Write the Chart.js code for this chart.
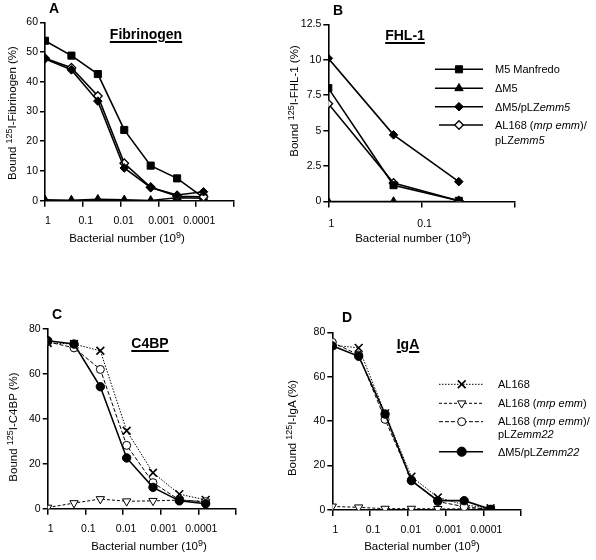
<!DOCTYPE html>
<html><head><meta charset="utf-8">
<script src="https://cdn.jsdelivr.net/npm/chart.js@4.4.1/dist/chart.umd.min.js"></script>
<style>
html,body{margin:0;padding:0;background:#fff;}
#wrap{position:relative;width:596px;height:560px;overflow:hidden;font-family:"Liberation Sans",Arial,sans-serif;color:#000;background:#fff;}
canvas{position:absolute;}
.t{position:absolute;white-space:nowrap;line-height:1;}
.c{transform:translate(-50%,-50%);}
.letter{font-weight:bold;font-size:14px;}
.ptitle{font-weight:bold;font-size:14px;text-decoration:underline;text-decoration-thickness:1.5px;text-underline-offset:2px;}
.xt{font-size:11.5px;}
.yt{font-size:11.5px;transform:translate(-50%,-50%) rotate(-90deg);}
sup{font-size:78%;vertical-align:0.42em;line-height:0;}
.lg{font-size:11px;transform:translate(0,-50%);}
</style>
</head><body>
<div id="wrap">
<canvas id="cA" width="290" height="280" style="left:0;top:0"></canvas>
<canvas id="cB" width="306" height="280" style="left:290px;top:0"></canvas>
<canvas id="cC" width="290" height="280" style="left:0;top:280px"></canvas>
<canvas id="cD" width="306" height="280" style="left:290px;top:280px"></canvas>

<div class="t c letter" style="left:54px;top:8px">A</div>
<div class="t c letter" style="left:338px;top:10px">B</div>
<div class="t c letter" style="left:57px;top:314px">C</div>
<div class="t c letter" style="left:347px;top:317px">D</div>

<div class="t c ptitle" style="left:146px;top:34px">Fibrinogen</div>
<div class="t c ptitle" style="left:405px;top:35px">FHL-1</div>
<div class="t c ptitle" style="left:150px;top:343px">C4BP</div>
<div class="t c ptitle" style="left:408px;top:344px">IgA</div>

<div class="t yt" style="left:13px;top:113px">Bound <sup>125</sup>I-Fibrinogen (%)</div>
<div class="t yt" style="left:295px;top:101px">Bound <sup>125</sup>I-FHL-1 (%)</div>
<div class="t yt" style="left:14px;top:427px">Bound <sup>125</sup>I-C4BP (%)</div>
<div class="t yt" style="left:293px;top:428px">Bound <sup>125</sup>I-IgA (%)</div>

<div class="t c xt" style="left:127px;top:239px">Bacterial number (10<sup>9</sup>)</div>
<div class="t c xt" style="left:413px;top:239px">Bacterial number (10<sup>9</sup>)</div>
<div class="t c xt" style="left:149px;top:547px">Bacterial number (10<sup>9</sup>)</div>
<div class="t c xt" style="left:422px;top:547px">Bacterial number (10<sup>9</sup>)</div>

<div class="t lg" style="left:495px;top:69px">M5 Manfredo</div>
<div class="t lg" style="left:495px;top:88px">ΔM5</div>
<div class="t lg" style="left:495px;top:107px">ΔM5/pLZ<i>emm5</i></div>
<div class="t lg" style="left:495px;top:125px">AL168 (<i>mrp emm</i>)/</div>
<div class="t lg" style="left:495px;top:140px">pLZ<i>emm5</i></div>

<div class="t lg" style="left:498px;top:384px">AL168</div>
<div class="t lg" style="left:498px;top:403px">AL168 (<i>mrp emm</i>)</div>
<div class="t lg" style="left:498px;top:421px">AL168 (<i>mrp emm</i>)/</div>
<div class="t lg" style="left:498px;top:434px">pLZ<i>emm22</i></div>
<div class="t lg" style="left:498px;top:452px">ΔM5/pLZ<i>emm22</i></div>
</div>
<script>
// ---- data ----
const bacteria = [1, 0.2, 0.04, 0.008, 0.0016, 0.00032, 0.000064];
const bacteriaFHL = [1, 0.2, 0.04];
const xTicksLong = [1, 0.1, 0.01, 0.001, 0.0001, 0.00001];
const xLabelsLong = ['1', '0.1', '0.01', '0.001', '0.0001', ''];
const xTicksShort = [1, 0.1, 0.01];
const xLabelsShort = ['1', '0.1', ''];

const fibM5 = [53.8, 48.8, 42.6, 23.8, 11.8, 7.5, 1.0];
const fibDM5 = [0.3, 0.2, 0.5, 0.3, 0.1, 1.0, 0.8];
const fibDM5emm5 = [47.7, 44.0, 33.5, 11.0, 4.4, 1.9, 3.0];
const fibAL168emm5 = [47.9, 44.7, 35.2, 12.6, 4.5, 1.5, 1.3];

const fhlM5 = [8.0, 1.15, 0.05];
const fhlDM5 = [0, 0, 0];
const fhlDM5emm5 = [10.1, 4.7, 1.4];
const fhlAL168emm5 = [6.9, 1.3, 0.05];

const c4AL168 = [73.8, 73.3, 70.3, 34.7, 16.0, 6.5, 3.9];
const c4AL168mrp = [0.5, 2.5, 4.3, 3.3, 3.5, 3.8, 3.1];
const c4AL168emm22 = [74.3, 71.6, 62.0, 28.2, 11.6, 3.9, 3.1];
const c4DM5emm22 = [74.8, 73.3, 54.3, 22.6, 9.5, 3.5, 2.2];

const igaAL168 = [74.2, 73.0, 43.5, 15.0, 5.7, 2.3, 0.8];
const igaAL168mrp = [1.6, 1.2, 0.6, 0.6, 0.5, 0.5, 0.5];
const igaAL168emm22 = [75.5, 69.8, 40.8, 13.5, 3.8, 1.5, 0.2];
const igaDM5emm22 = [73.9, 69.2, 43.2, 13.2, 4.2, 4.2, 0.3];

// ---- styles ----
const FONT = '"Liberation Sans", Arial, sans-serif';
const BLK = '#000';
const S = {
  m5: {pointStyle:'rect', pointRadius:5, backgroundColor:BLK, borderColor:BLK, borderWidth:1.6, pointBorderWidth:1},
  dm5: {pointStyle:'triangle', pointRadius:4.8, backgroundColor:BLK, borderColor:BLK, borderWidth:1.4, pointBorderWidth:1},
  dm5emm5: {pointStyle:'rectRot', pointRadius:4.3, backgroundColor:BLK, borderColor:BLK, borderWidth:1.6, pointBorderWidth:1},
  al5: {pointStyle:'rectRot', pointRadius:4.3, backgroundColor:'#fff', borderColor:BLK, borderWidth:1.6, pointBorderWidth:1.3},
  al168: {pointStyle:'crossRot', pointRadius:5.5, backgroundColor:BLK, borderColor:BLK, borderWidth:1, pointBorderWidth:1.6, borderDash:[1.5,1.5]},
  almrp: {pointStyle:'triangle', rotation:180, pointRotation:180, pointRadius:4.8, backgroundColor:'#fff', borderColor:BLK, borderWidth:1, pointBorderWidth:1, borderDash:[3,2]},
  al22: {pointStyle:'circle', pointRadius:4, backgroundColor:'#fff', borderColor:BLK, borderWidth:1, pointBorderWidth:1, borderDash:[4,2]},
  dm22: {pointStyle:'circle', pointRadius:4.2, backgroundColor:BLK, borderColor:BLK, borderWidth:1.6, pointBorderWidth:1}
};

function ds(xs, ys, st, order) {
  return Object.assign({
    data: xs.map((x, i) => ({x: x, y: ys[i]})),
    pointBackgroundColor: st.backgroundColor,
    pointBorderColor: BLK,
    pointHoverRadius: st.pointRadius,
    tension: 0, fill: false, order: order
  }, st);
}

const legendPlugin = {
  id: 'lgd',
  afterDraw(chart, args, opts) {
    if (!opts || !opts.items) return;
    const ctx = chart.ctx;
    opts.items.forEach(it => {
      const st = it.style;
      ctx.save();
      ctx.strokeStyle = BLK;
      ctx.lineWidth = st.borderWidth;
      ctx.setLineDash(st.borderDash || []);
      ctx.beginPath();
      ctx.moveTo(it.x1, it.y); ctx.lineTo(it.x2, it.y);
      ctx.stroke();
      ctx.setLineDash([]);
      ctx.fillStyle = st.backgroundColor;
      ctx.strokeStyle = BLK;
      ctx.lineWidth = st.pointBorderWidth;
      Chart.helpers.drawPoint(ctx, {pointStyle: st.pointStyle, rotation: st.pointRotation || 0, radius: (it.r || st.pointRadius), borderWidth: st.pointBorderWidth}, it.xm, it.y);
      ctx.restore();
    });
  }
};

function makeChart(id, cfg) {
  const xTicks = cfg.xTicks, xLabels = cfg.xLabels;
  return new Chart(document.getElementById(id), {
    type: 'line',
    data: {datasets: cfg.datasets},
    options: {
      responsive: false, animation: false, devicePixelRatio: 1,
      layout: {padding: {top: cfg.top, right: cfg.right, bottom: 0, left: 0}},
      plugins: {legend: {display: false}, tooltip: {enabled: false}, lgd: {items: cfg.legend || null}},
      scales: {
        x: {
          type: 'logarithmic', reverse: true, min: cfg.xMin, max: 1,
          afterBuildTicks: s => { s.ticks = xTicks.map(v => ({value: v})); },
          afterFit: s => { s.height = cfg.xH; },
          ticks: {callback: (v, i) => xLabels[i], autoSkip: false, maxRotation: 0, minRotation: 0,
                  color: BLK, padding: cfg.xPad, labelOffset: 3, font: {family: FONT, size: 10.5}},
          grid: {display: true, drawOnChartArea: false, drawTicks: true, tickLength: 6, color: BLK, lineWidth: 1.5},
          border: {display: true, color: BLK, width: 1.6}
        },
        y: {
          type: 'linear', min: 0, max: cfg.yMax,
          afterFit: s => { s.width = cfg.yW; },
          ticks: {stepSize: cfg.yStep, color: BLK, padding: 2, font: {family: FONT, size: 10.5},
                  callback: v => String(v)},
          grid: {display: true, drawOnChartArea: false, drawTicks: true, tickLength: 5, color: BLK, lineWidth: 1.5},
          border: {display: true, color: BLK, width: 1.6}
        }
      }
    },
    plugins: [legendPlugin]
  });
}

makeChart('cA', {
  xTicks: xTicksLong, xLabels: xLabelsLong, xMin: 0.00001,
  top: 22.3, right: 56, xH: 79.3, yW: 45, yMax: 60, yStep: 10, xPad: 8.5,
  datasets: [
    ds(bacteria, fibDM5emm5, S.dm5emm5, 1),
    ds(bacteria, fibAL168emm5, S.al5, 2),
    ds(bacteria, fibM5, S.m5, 3),
    ds(bacteria, fibDM5, S.dm5, 4)
  ]
});

makeChart('cB', {
  xTicks: xTicksShort, xLabels: xLabelsShort, xMin: 0.01,
  top: 24.3, right: 81, xH: 78.5, yW: 38.3, yMax: 12.5, yStep: 2.5, xPad: 10.5,
  datasets: [
    ds(bacteriaFHL, fhlDM5emm5, S.dm5emm5, 1),
    ds(bacteriaFHL, fhlAL168emm5, S.al5, 3),
    ds(bacteriaFHL, fhlM5, S.m5, 2),
    ds(bacteriaFHL, fhlDM5, S.dm5, 4)
  ],
  legend: [
    {style: S.m5, x1: 145, x2: 193, xm: 169, y: 69.3},
    {style: S.dm5, x1: 145, x2: 193, xm: 169, y: 88.3},
    {style: S.dm5emm5, x1: 145, x2: 193, xm: 169, y: 106.7},
    {style: S.al5, x1: 149, x2: 193, xm: 169, y: 125}
  ]
});

makeChart('cC', {
  xTicks: xTicksLong, xLabels: xLabelsLong, xMin: 0.00001,
  top: 49, right: 54, xH: 51.3, yW: 47.7, yMax: 80, yStep: 20, xPad: 8,
  datasets: [
    ds(bacteria, c4DM5emm22, S.dm22, 1),
    ds(bacteria, c4AL168emm22, S.al22, 2),
    ds(bacteria, c4AL168, S.al168, 3),
    ds(bacteria, c4AL168mrp, S.almrp, 4)
  ]
});

makeChart('cD', {
  xTicks: xTicksLong, xLabels: xLabelsLong, xMin: 0.00001,
  top: 52.3, right: 75, xH: 50, yW: 42.3, yMax: 80, yStep: 20, xPad: 8,
  datasets: [
    ds(bacteria, igaDM5emm22, S.dm22, 1),
    ds(bacteria, igaAL168emm22, S.al22, 2),
    ds(bacteria, igaAL168, S.al168, 3),
    ds(bacteria, igaAL168mrp, S.almrp, 4)
  ],
  legend: [
    {style: S.al168, x1: 149, x2: 193, xm: 171.7, y: 104.3},
    {style: S.almrp, x1: 149, x2: 193, xm: 171.7, y: 123.3},
    {style: S.al22, x1: 149, x2: 193, xm: 171.7, y: 141.7},
    {style: S.dm22, x1: 149, x2: 193, xm: 171.7, y: 171.7, r: 4.6}
  ]
});
</script>
</body></html>
